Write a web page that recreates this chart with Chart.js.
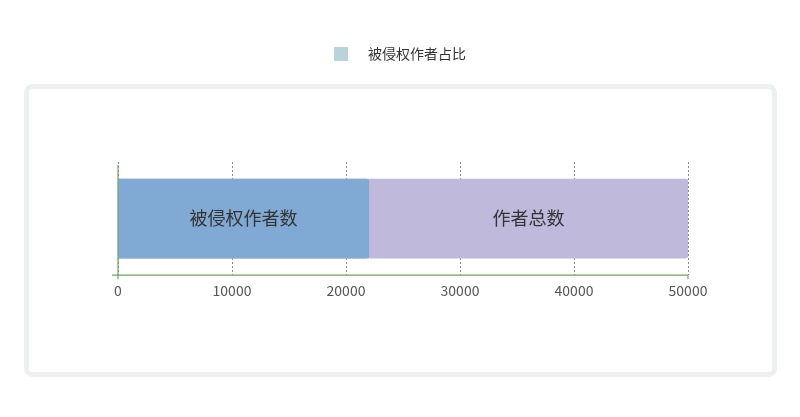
<!DOCTYPE html>
<html>
<head>
<meta charset="utf-8">
<script src="https://cdn.jsdelivr.net/npm/chart.js@4"></script>
<style>
  html, body { margin: 0; padding: 0; background: #fff; }
  #wrap { width: 800px; height: 417px; }
</style>
</head>
<body>
<div id="wrap"><canvas id="chart" width="800" height="417"></canvas></div>
<script>
// chart data
const categories = ['作者'];
const seriesNames = ['被侵权作者数', '作者总数'];
const infringedAuthors = [22000];
const totalAuthors = [50000];
const legendText = '被侵权作者占比';
const xTicks = [0, 10000, 20000, 30000, 40000, 50000];

const FONT = '"Noto Sans CJK SC", "Noto Sans", sans-serif';

// light frame around the plot + custom legend on top
const framePlugin = {
    id: 'frame',
    beforeDraw(chart) {
        const ctx = chart.ctx;
        ctx.save();
        ctx.strokeStyle = '#eeeff1';
        ctx.lineWidth = 5;
        ctx.beginPath();
        ctx.roundRect(26.5, 86.5, 748, 288, 6);
        ctx.stroke();

        // legend
        ctx.fillStyle = '#b8d3da';
        ctx.fillRect(334, 47, 14, 14);
        ctx.fillStyle = '#333';
        ctx.font = '14px ' + FONT;
        ctx.textBaseline = 'middle';
        ctx.textAlign = 'left';
        ctx.fillText(legendText, 368, 54);
        ctx.restore();
    },
    afterDraw(chart) {
        // green axis lines, with the little stub left of the origin
        const ctx = chart.ctx;
        const x = chart.scales.x, y = chart.scales.y;
        ctx.save();
        ctx.strokeStyle = '#72a35e';
        ctx.lineWidth = 1.2;
        ctx.beginPath();
        ctx.moveTo(x.left - 6, y.bottom);
        ctx.lineTo(x.right, y.bottom);
        ctx.moveTo(x.left, y.top + 3);
        ctx.lineTo(x.left, y.bottom + 4);
        ctx.moveTo(x.right, y.bottom);
        ctx.lineTo(x.right, y.bottom + 4);
        ctx.stroke();
        ctx.restore();
    }
};

// bar labels centred on the visible part of each bar
const barLabels = {
    id: 'barLabels',
    afterDatasetsDraw(chart) {
        const ctx = chart.ctx;
        const xs = chart.scales.x;
        const blue = chart.getDatasetMeta(0).data[0];
        const purple = chart.getDatasetMeta(1).data[0];
        const x0 = xs.getPixelForValue(0);
        ctx.save();
        ctx.fillStyle = '#333';
        ctx.font = '18px ' + FONT;
        ctx.textAlign = 'center';
        ctx.textBaseline = 'middle';
        ctx.fillText(seriesNames[0], (x0 + blue.x) / 2, blue.y);
        ctx.fillText(seriesNames[1], (blue.x + purple.x) / 2, purple.y);
        ctx.restore();
    }
};

new Chart(document.getElementById('chart'), {
    type: 'bar',
    data: {
        labels: categories,
        datasets: [
            {
                label: seriesNames[0],
                data: infringedAuthors,
                backgroundColor: '#80a9d3',
                grouped: false,
                order: 0,
                barThickness: 79,
                borderRadius: 3,
                borderSkipped: 'start'
            },
            {
                label: seriesNames[1],
                data: totalAuthors,
                backgroundColor: '#bfb9db',
                grouped: false,
                order: 1,
                barThickness: 79,
                borderRadius: 3,
                borderSkipped: 'start'
            }
        ]
    },
    options: {
        indexAxis: 'y',
        responsive: false,
        animation: false,
        layout: { padding: { top: 162, left: 118, right: 112, bottom: 111 } },
        plugins: {
            legend: { display: false },
            tooltip: { enabled: false }
        },
        scales: {
            x: {
                min: 0,
                max: 50000,
                afterBuildTicks(scale) { scale.ticks = xTicks.map(v => ({ value: v })); },
                grid: { color: '#8c8c8c', drawTicks: false, lineWidth: 1 },
                border: { display: false, dash: [2, 2] },
                ticks: {
                    color: '#555',
                    padding: 7,
                    font: { family: FONT, size: 14 },
                    callback: v => String(v)
                }
            },
            y: {
                grid: { display: false, drawTicks: false },
                border: { display: false },
                ticks: { display: false }
            }
        }
    },
    plugins: [framePlugin, barLabels]
});
</script>
</body>
</html>
